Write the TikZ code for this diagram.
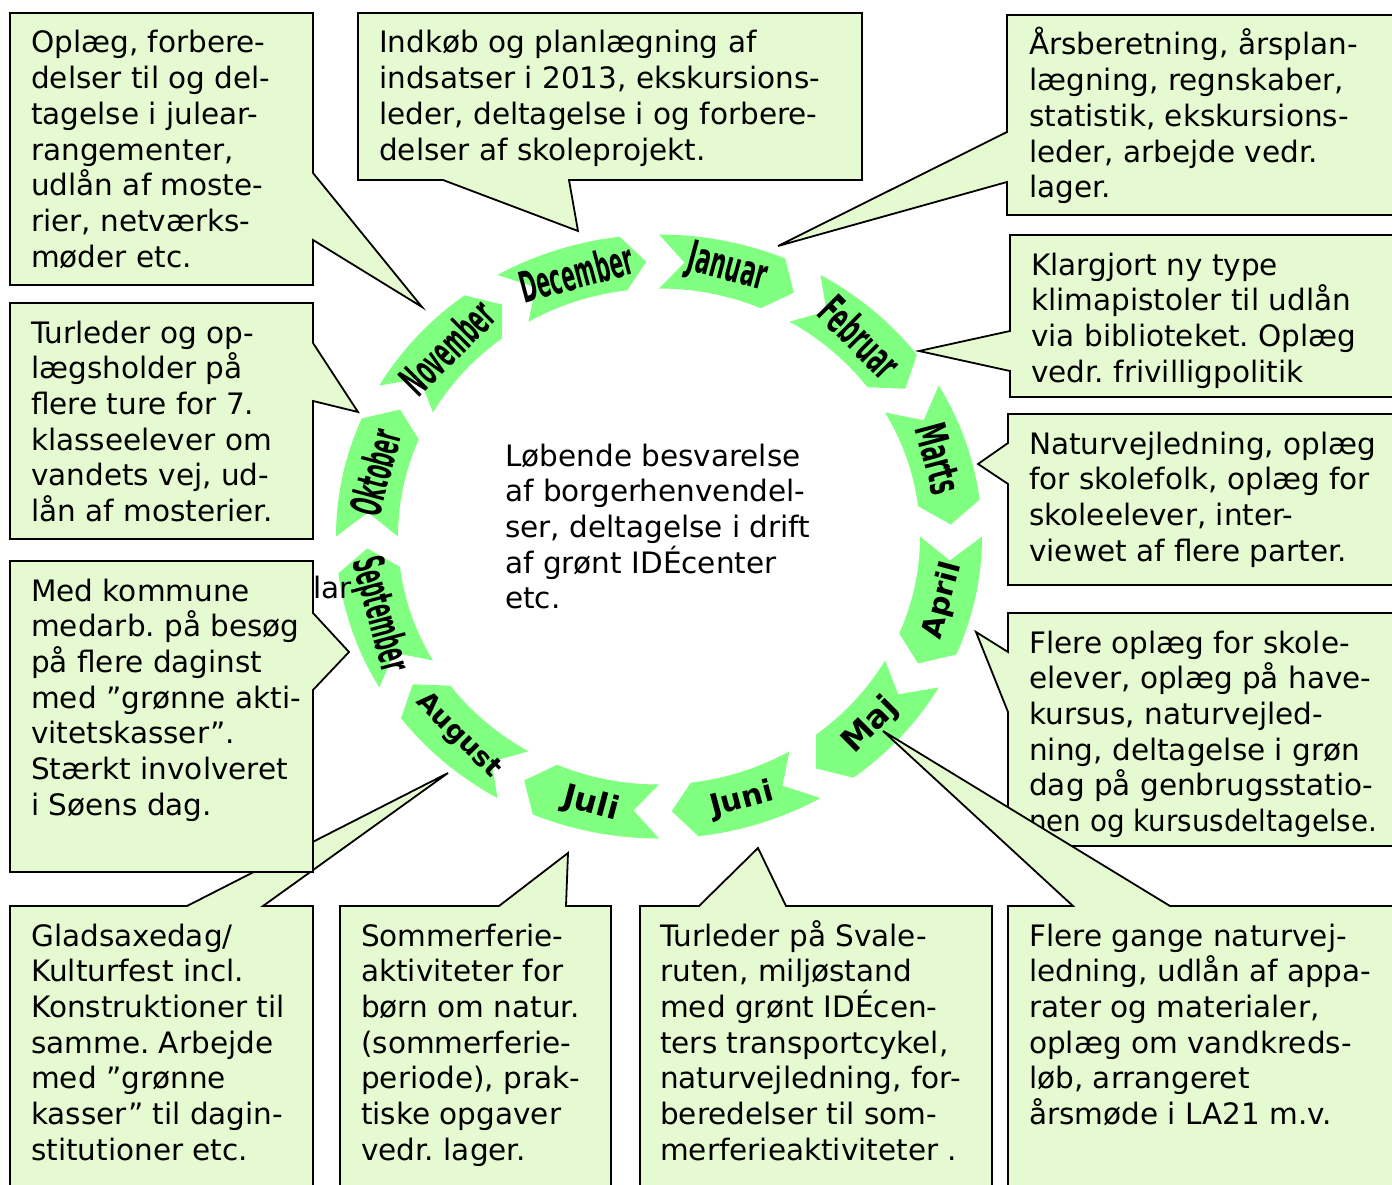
\documentclass[tikz,border=0pt]{standalone}
\usepackage{fontspec}
\setmainfont{DejaVu Sans}
\usepackage{graphicx}
\frenchspacing
\definecolor{boxfill}{HTML}{E6FAD2}
\definecolor{monthgreen}{HTML}{80FF80}
\newcommand\bodyfont{\fontsize{29.5}{35.7}\selectfont}
\newcommand\boxtext[1]{\parbox[t]{700pt}{\raggedright\frenchspacing\bodyfont #1}}
\newcommand\condlabel[2]{\scalebox{#1}[1]{\fontsize{43}{43}\selectfont\bfseries #2}}
\newcommand\widelabel[2]{\fontsize{#1}{#1}\selectfont\bfseries #2}
\tikzset{
  callout/.style={fill=boxfill, draw=black, line width=1.8pt, line join=miter},
  bodytext/.style={anchor=base west, inner sep=0pt, text=black},
  monthlabel/.style={inner sep=0pt, text=black},
  monthshape/.style={fill=monthgreen, draw=none}
}
\newcommand\monthseg[1]{%
  \pgfmathsetmacro\msT{#1+15}%
  \pgfmathsetmacro\msN{#1+10}%
  \pgfmathsetmacro\msB{#1-8}%
  \pgfmathsetmacro\msP{#1-12.5}%
  \path[monthshape] ({659+323*cos(\msT)},{-536.5+302*sin(\msT)})
    arc[start angle=\msT, end angle=\msB, x radius=323, y radius=302]
    -- ({659+292*cos(\msP)},{-536.5+275*sin(\msP)})
    -- ({659+261*cos(\msB)},{-536.5+248*sin(\msB)})
    arc[start angle=\msB, end angle=\msT, x radius=261, y radius=248]
    -- ({659+292*cos(\msN)},{-536.5+275*sin(\msN)}) -- cycle;}
\begin{document}
\begin{tikzpicture}[x=1pt,y=1pt]
\useasboundingbox (0,0) rectangle (1392,-1185);
\fill[white] (0,0) rectangle (1392,-1185);

% month ring
\foreach \a in {75,45,15,-15,-45,-75,-105,-135,-165,165,135,105} {\monthseg{\a}}

% hidden text fragment
\node[bodytext, font=\bodyfont] (lar) at (313,-598) {lar};

\node[monthlabel, rotate=-15] (mJan) at ({659+292*cos(76.5)},{-536.5+275*sin(76.5)}) {\condlabel{0.51}{Januar}};
\node[monthlabel, rotate=-45] (mFeb) at ({659+292*cos(46.5)},{-536.5+275*sin(46.5)}) {\condlabel{0.5}{Februar}};
\node[monthlabel, rotate=-75] (mMar) at ({659+292*cos(16.5)},{-536.5+275*sin(16.5)}) {\condlabel{0.51}{Marts}};
\node[monthlabel, rotate=75] (mApr) at ({659+292*cos(-13.5)},{-536.5+275*sin(-13.5)}) {\widelabel{29}{April}};
\node[monthlabel, rotate=45] (mMaj) at ({659+292*cos(-43.5)},{-536.5+275*sin(-43.5)}) {\widelabel{32}{Maj}};
\node[monthlabel, rotate=15] (mJun) at ({659+292*cos(-73.5)},{-536.5+275*sin(-73.5)}) {\widelabel{30}{Juni}};
\node[monthlabel, rotate=-15] (mJul) at ({659+292*cos(-103.5)},{-536.5+275*sin(-103.5)}) {\widelabel{32}{Juli}};
\node[monthlabel, rotate=-45] (mAug) at ({659+292*cos(-133.5)},{-536.5+275*sin(-133.5)}) {\widelabel{27}{August}};
\node[monthlabel, rotate=-75] (mSep) at ({659+292*cos(-163.5)},{-536.5+275*sin(-163.5)}) {\condlabel{0.44}{September}};
\node[monthlabel, rotate=75] (mOkt) at ({659+292*cos(166.5)},{-536.5+275*sin(166.5)}) {\condlabel{0.44}{Oktober}};
\node[monthlabel, rotate=45] (mNov) at ({659+292*cos(136.5)},{-536.5+275*sin(136.5)}) {\condlabel{0.45}{November}};
\node[monthlabel, rotate=15] (mDec) at ({659+292*cos(106.5)},{-536.5+275*sin(106.5)}) {\condlabel{0.47}{December}};

% centre text
\node[bodytext] (ctr) at (505,-466) {\boxtext{Løbende besvarelse\\af borgerhenvendel-\\ser, deltagelse i drift\\af grønt IDÉcenter\\etc.}};

% callouts
\path[callout] (10,-13) -- (313,-13) -- (313,-173) -- (422,-307) -- (313,-240) -- (313,-285) -- (10,-285) -- cycle;
\node[bodytext] (b1) at (31,-53) {\boxtext{Oplæg, forbere-\\delser til og del-\\tagelse i julear-\\rangementer,\\udlån af moste-\\rier, netværks-\\møder etc.}};

\path[callout] (358,-13) -- (862,-13) -- (862,-180) -- (569,-180) -- (578,-231) -- (443,-180) -- (358,-180) -- cycle;
\node[bodytext] (b2) at (379,-53) {\boxtext{Indkøb og planlægning af\\indsatser i 2013, ekskursions-\\leder, deltagelse i og forbere-\\delser af skoleprojekt.}};

\path[callout] (1007,-15) -- (1410,-15) -- (1410,-215) -- (1007,-215) -- (1007,-182) -- (778,-246) -- (1007,-132) -- cycle;
\node[bodytext] (b3) at (1029,-55) {\boxtext{Årsberetning, årsplan-\\lægning, regnskaber,\\statistik, ekskursions-\\leder, arbejde vedr.\\lager.}};

\path[callout] (1010,-235) -- (1410,-235) -- (1410,-397) -- (1010,-397) -- (1010,-371) -- (919,-351) -- (1010,-331) -- cycle;
\node[bodytext] (b4) at (1031,-275) {\boxtext{Klargjort ny type\\klimapistoler til udlån\\via biblioteket. Oplæg\\vedr. frivilligpolitik}};

\path[callout] (1008,-414) -- (1410,-414) -- (1410,-585) -- (1008,-585) -- (1008,-484) -- (978,-464) -- (1008,-443) -- cycle;
\node[bodytext] (b5) at (1029,-454) {\boxtext{Naturvejledning, oplæg\\for skolefolk, oplæg for\\skoleelever, inter-\\viewet af flere parter.}};

\path[callout] (1008,-613) -- (1410,-613) -- (1410,-846) -- (1008,-846) -- (1008,-712) -- (976,-632) -- (1008,-652) -- cycle;
\node[bodytext] (b6) at (1029,-653) {\boxtext{Flere oplæg for skole-\\elever, oplæg på have-\\kursus, naturvejled-\\ning, deltagelse i grøn\\dag på genbrugsstatio-\\\scalebox{0.94}[1]{nen og kursusdeltagelse.}}};

\path[callout] (1008,-906) -- (1073,-906) -- (883,-731) -- (1170,-906) -- (1410,-906) -- (1410,-1200) -- (1008,-1200) -- cycle;
\node[bodytext] (b7) at (1029,-946) {\boxtext{Flere gange naturvej-\\ledning, udlån af appa-\\rater og materialer,\\oplæg om vandkreds-\\løb, arrangeret\\årsmøde i LA21 m.v.}};

\path[callout] (640,-906) -- (699,-906) -- (758,-848) -- (786,-906) -- (992,-906) -- (992,-1200) -- (640,-1200) -- cycle;
\node[bodytext] (b8) at (660,-946) {\boxtext{Turleder på Svale-\\ruten, miljøstand\\med grønt IDÉcen-\\ters transportcykel,\\naturvejledning, for-\\beredelser til som-\\merferieaktiviteter .}};

\path[callout] (340,-906) -- (499,-906) -- (568,-853) -- (566,-906) -- (611,-906) -- (611,-1200) -- (340,-1200) -- cycle;
\node[bodytext] (b9) at (361,-946) {\boxtext{Sommerferie-\\aktiviteter for\\børn om natur.\\(sommerferie-\\periode), prak-\\tiske opgaver\\vedr. lager.}};

\path[callout] (10,-906) -- (187,-906) -- (448,-773) -- (263,-906) -- (313,-906) -- (313,-1200) -- (10,-1200) -- cycle;
\node[bodytext] (b10) at (31,-946) {\boxtext{Gladsaxedag/\\Kulturfest incl.\\Konstruktioner til\\samme. Arbejde\\med ”grønne\\kasser” til dagin-\\stitutioner etc.}};

\path[callout] (10,-561) -- (313,-561) -- (313,-613) -- (349,-652) -- (313,-690) -- (313,-872) -- (10,-872) -- cycle;
\node[bodytext] (b11) at (31,-601) {\boxtext{Med kommune\\medarb. på besøg\\på flere daginst\\med ”grønne akti-\\vitetskasser”.\\Stærkt involveret\\i Søens dag.}};

\path[callout] (10,-303) -- (313,-303) -- (313,-343) -- (358,-412) -- (313,-401) -- (313,-539) -- (10,-539) -- cycle;
\node[bodytext] (b12) at (31,-343) {\boxtext{Turleder og op-\\lægsholder på\\flere ture for 7.\\klasseelever om\\vandets vej, ud-\\lån af mosterier.}};
\end{tikzpicture}
\end{document}
